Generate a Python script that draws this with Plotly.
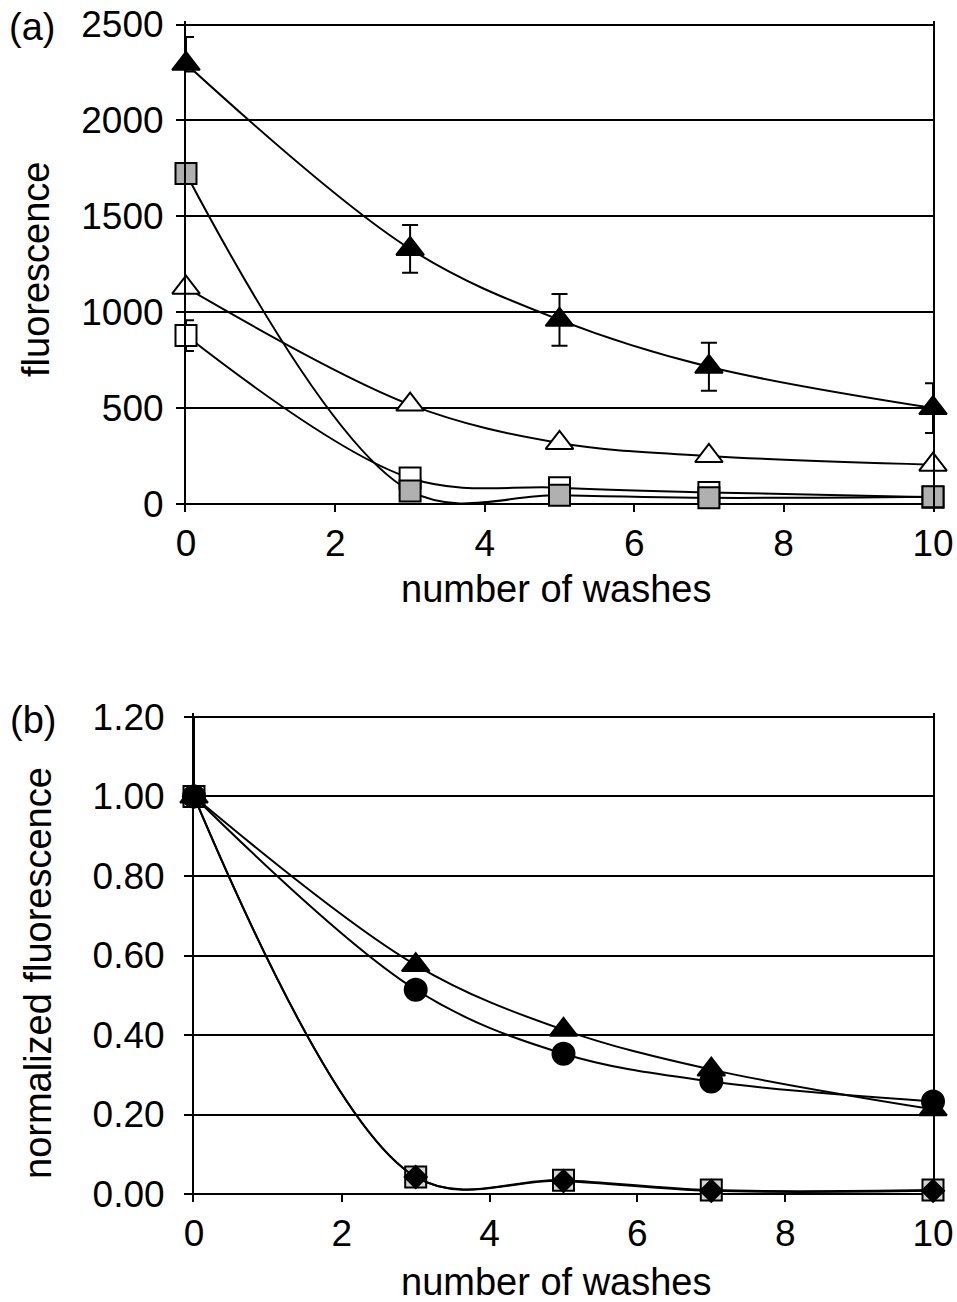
import plotly.graph_objects as go

# ---------------- data ----------------
washes = [0, 3, 5, 7, 10]

# panel (a): fluorescence
a_black_tri = [2295, 1330, 960, 715, 500]
a_black_tri_err_up = [140, 125, 135, 125, 130]
a_black_tri_err_down = [40, 125, 135, 125, 130]
a_open_tri = [1128, 518, 318, 250, 205]
a_open_sq = [878, 135, 85, 60, 35]
a_open_sq_err = [80, None, None, None, None]
a_gray_sq = [1723, 68, 45, 32, 38]

# panel (b): normalized fluorescence
b_tri = [1.00, 0.576, 0.413, 0.313, 0.213]
b_circ = [1.00, 0.514, 0.353, 0.283, 0.233]
b_sq = [1.00, 0.043, 0.035, 0.010, 0.010]
b_sq_err_up = [0.20, None, None, None, None]
b_sq_err_down = [0.0, None, None, None, None]
b_dia = [1.00, 0.043, 0.033, 0.008, 0.008]

a_yticks = [0, 500, 1000, 1500, 2000, 2500]
b_yticks = [0.0, 0.2, 0.4, 0.6, 0.8, 1.0, 1.2]
x_ticks = [0, 2, 4, 6, 8, 10]

FONT = "Liberation Sans, Arial, sans-serif"
W, H = 957, 1302
TICK_SIZE = 37
TITLE_SIZE = 38
LINE = dict(color="black", width=2, shape="spline", smoothing=1)

fig = go.Figure()


def add(x, y, xa, ya, symbol, fill, size, err=None, errminus=None):
    kw = {}
    if err is not None:
        ed = dict(type="data", array=err, visible=True,
                  color="black", thickness=2, width=8)
        if errminus is not None:
            ed["symmetric"] = False
            ed["arrayminus"] = errminus
        kw["error_y"] = ed
    fig.add_trace(go.Scatter(
        x=x, y=y, xaxis=xa, yaxis=ya, mode="lines+markers",
        line=LINE, cliponaxis=False,
        marker=dict(symbol=symbol, size=size, color=fill,
                    line=dict(color="black", width=2)),
        showlegend=False, **kw))


# panel (a)
add(washes, a_open_sq, "x", "y", "square", "white", 21, a_open_sq_err)
add(washes, a_gray_sq, "x", "y", "square", "#b0b0b0", 21)
add(washes, a_open_tri, "x", "y", "triangle-up", "white", 24)
add(washes, a_black_tri, "x", "y", "triangle-up", "black", 24,
    a_black_tri_err_up, a_black_tri_err_down)

# panel (b)
add(washes, b_sq, "x2", "y2", "square", "#d4d4d4", 21, b_sq_err_up, b_sq_err_down)
add(washes, b_dia, "x2", "y2", "diamond", "black", 17)
add(washes, b_circ, "x2", "y2", "circle", "black", 22)
add(washes, b_tri, "x2", "y2", "triangle-up", "black", 24)


def px_x(p):
    return p / W


def px_y(p):
    return 1 - p / H


common_x = dict(range=[0, 10], tickvals=x_ticks, ticks="inside", ticklen=8,
                tickwidth=2, tickcolor="black", showline=False, showgrid=False,
                zeroline=False, tickfont=dict(family=FONT, size=TICK_SIZE, color="black"),
                ticklabelstandoff=6, fixedrange=True, automargin=False)
common_y = dict(ticks="outside", ticklen=8, tickwidth=2, tickcolor="black",
                showline=True, linecolor="black", linewidth=2, mirror=True,
                showgrid=True, gridcolor="black", gridwidth=2,
                zeroline=True, zerolinecolor="black", zerolinewidth=2,
                tickfont=dict(family=FONT, size=TICK_SIZE, color="black"),
                fixedrange=True, automargin=False)

fig.update_layout(
    width=W, height=H, margin=dict(l=0, r=0, t=0, b=0, autoexpand=False),
    paper_bgcolor="white", plot_bgcolor="white",
    font=dict(family=FONT, color="black"),
    xaxis=dict(domain=[px_x(186), px_x(933)], anchor="y", **common_x),
    yaxis=dict(domain=[px_y(512), px_y(20.5)], anchor="x",
               range=[-42, 2521], tickvals=a_yticks, ticktext=[str(v) for v in a_yticks],
               ticklabelstandoff=5, **common_y),
    xaxis2=dict(domain=[px_x(194), px_x(933)], anchor="y2", **common_x),
    yaxis2=dict(domain=[px_y(1202), px_y(713)], anchor="x2",
                range=[-0.02, 1.21], tickvals=b_yticks,
                ticktext=[f"{v:.2f}" for v in b_yticks],
                ticklabelstandoff=12, **common_y),
)

ann = [
    ("(a)", 32, 27, 0),
    ("(b)", 33, 720, 0),
    ("number of washes", 556, 589, 0),
    ("number of washes", 556, 1282, 0),
    ("fluorescence", 36, 270, -90),
    ("normalized fluorescence", 38, 973, -90),
]
for text, x, y, ang in ann:
    fig.add_annotation(text=text, x=px_x(x), y=px_y(y), xref="paper", yref="paper",
                       xanchor="center", yanchor="middle", showarrow=False,
                       textangle=ang, font=dict(family=FONT, size=TITLE_SIZE, color="black"))

fig.write_html("out.html", config={"displayModeBar": False},
               post_script="document.body.style.margin='0';document.body.style.overflow='hidden';")
